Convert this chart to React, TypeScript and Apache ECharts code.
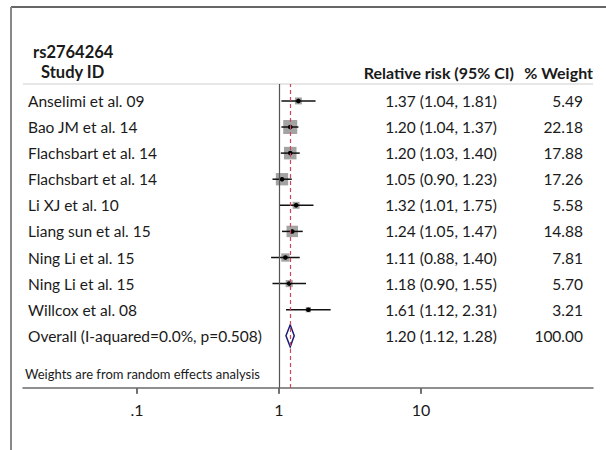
import React, { useEffect, useRef } from "react";
import * as echarts from "echarts";

const studies = [
  "Anselimi et al. 09",
  "Bao JM et al. 14",
  "Flachsbart et al. 14",
  "Flachsbart et al. 14",
  "Li XJ et al. 10",
  "Liang sun et al. 15",
  "Ning Li et al. 15",
  "Ning Li et al. 15",
  "Willcox et al. 08",
];
const rr = [1.37, 1.2, 1.2, 1.05, 1.32, 1.24, 1.11, 1.18, 1.61];
const lower = [1.04, 1.04, 1.03, 0.9, 1.01, 1.05, 0.88, 0.9, 1.12];
const upper = [1.81, 1.37, 1.4, 1.23, 1.75, 1.47, 1.4, 1.55, 2.31];
const weights = [5.49, 22.18, 17.88, 17.26, 5.58, 14.88, 7.81, 5.7, 3.21];

const overallLabel = "Overall (I-aquared=0.0%, p=0.508)";
const overallRR = 1.2;
const overallLower = 1.12;
const overallUpper = 1.28;
const overallWeight = 100.0;

const xTickValues = [0.1, 1, 10];
const xTickLabels = [".1", "1", "10"];

const FONT = "Lato, 'DejaVu Sans Condensed', sans-serif";
const TEXT_COLOR = "#1a1a1a";
const AXIS_COLOR = "#6a6a6a";
const NAME_X = 28;
const RR_X = 441;
const W_X = 583;
const FS = 15.5;
const Y_MAX = 11.648;

function fmtCI(e: number, l: number, u: number) {
  return `${e.toFixed(2)} (${l.toFixed(2)}, ${u.toFixed(2)})`;
}

function textEl(text: string, x: number, y: number, align: string, opts: any = {}) {
  return {
    type: "text",
    x,
    y,
    style: {
      text,
      fill: TEXT_COLOR,
      fontFamily: FONT,
      fontSize: FS,
      align,
      verticalAlign: "middle",
      ...opts,
    },
  };
}

export default function App() {
  const ref = useRef<HTMLDivElement>(null);
  useEffect(() => {
    if (!ref.current) return;
    const chart = echarts.init(ref.current, undefined, { renderer: "svg" });
    // rows counted upwards from the axis: top study is row 11, overall row 2
    const studyData = studies.map((_, i) => [rr[i], studies.length + 2 - i, lower[i], upper[i], weights[i]]);
    const overallRow = 2;
    const option: any = {
      animation: false,
      backgroundColor: "#ffffff",
      grid: { left: 23, right: 13, top: 84, bottom: 62, containLabel: false },
      xAxis: {
        type: "log",
        logBase: 10,
        min: 0.01575,
        max: 162.7,
        position: "bottom",
        axisLine: { show: true, onZero: true, lineStyle: { color: AXIS_COLOR, width: 1.5 } },
        axisTick: { show: true, length: 5, inside: false, customValues: xTickValues, lineStyle: { color: AXIS_COLOR, width: 1.5 } },
        axisLabel: {
          show: true,
          customValues: xTickValues,
          margin: 13,
          fontFamily: FONT,
          fontSize: 16,
          color: TEXT_COLOR,
          formatter: (v: number) => {
            const k = xTickValues.findIndex((t) => Math.abs(t - v) < 1e-9);
            return k >= 0 ? xTickLabels[k] : "";
          },
        },
        splitLine: { show: false },
        minorTick: { show: false },
      },
      yAxis: {
        type: "value",
        min: 0,
        max: Y_MAX,
        axisLine: { show: false },
        axisTick: { show: false },
        axisLabel: { show: false },
        splitLine: { show: false },
      },
      graphic: [
        { type: "line", shape: { x1: 11, y1: 7, x2: 606, y2: 7 }, style: { stroke: "#333", lineWidth: 1.5 } },
        { type: "line", shape: { x1: 11, y1: 7, x2: 11, y2: 450 }, style: { stroke: "#888", lineWidth: 2 } },
        { type: "line", shape: { x1: 23, y1: 84, x2: 593, y2: 84 }, style: { stroke: "#cfcfcf", lineWidth: 1 } },
        { ...textEl("rs2764264", 33, 52, "left", { fontWeight: "bold", fontSize: 16.5 }) },
        { ...textEl("Study ID", 41, 72, "left", { fontWeight: "bold", fontSize: 16.5 }) },
        { ...textEl("Relative risk (95% CI)", 514, 72, "right", { fontWeight: "bold", fontSize: 16 }) },
        { ...textEl("% Weight", 593, 72, "right", { fontWeight: "bold", fontSize: 16 }) },
        { ...textEl("Weights are from random effects analysis", 25, 374, "left", { fontSize: 13 }) },
      ],
      series: [
        {
          type: "custom",
          name: "studies",
          data: studyData,
          renderItem: (params: any, api: any) => {
            const i = params.dataIndex;
            const est = api.value(0);
            const row = api.value(1);
            const lo = api.value(2);
            const hi = api.value(3);
            const w = api.value(4);
            const c = api.coord([est, row]);
            const pl = api.coord([lo, row]);
            const ph = api.coord([hi, row]);
            const side = 2.97 * Math.sqrt(w);
            return {
              type: "group",
              children: [
                { type: "rect", shape: { x: c[0] - side / 2, y: c[1] - side / 2, width: side, height: side }, style: { fill: "#a3a3a3" } },
                { type: "line", shape: { x1: pl[0], y1: c[1], x2: ph[0], y2: c[1] }, style: { stroke: "#111", lineWidth: 1.5 } },
                { type: "circle", shape: { cx: c[0], cy: c[1], r: 2.3 }, style: { fill: "#000" } },
                textEl(studies[i], NAME_X, c[1], "left"),
                textEl(fmtCI(rr[i], lower[i], upper[i]), RR_X, c[1], "center"),
                textEl(weights[i].toFixed(2), W_X, c[1], "right"),
              ],
            };
          },
          markLine: {
            silent: true,
            symbol: "none",
            label: { show: false },
            data: [
              { xAxis: 1, lineStyle: { color: "#555", type: "solid", width: 1.2 } },
              { xAxis: overallRR, lineStyle: { color: "#c9485b", type: [4, 3], width: 1.2 } },
            ],
          },
          z: 3,
        },
        {
          type: "custom",
          name: "overall",
          data: [[overallRR, overallRow, overallLower, overallUpper, overallWeight]],
          renderItem: (params: any, api: any) => {
            const row = api.value(1);
            const c = api.coord([api.value(0), row]);
            const pl = api.coord([api.value(2), row]);
            const ph = api.coord([api.value(3), row]);
            const h = 11;
            return {
              type: "group",
              children: [
                {
                  type: "polygon",
                  shape: { points: [[pl[0], c[1]], [c[0], c[1] - h], [ph[0], c[1]], [c[0], c[1] + h]] },
                  style: { fill: "#ffffff", stroke: "#1c1c78", lineWidth: 1.5 },
                },
                textEl(overallLabel, NAME_X, c[1], "left"),
                textEl(fmtCI(overallRR, overallLower, overallUpper), RR_X, c[1], "center"),
                textEl(overallWeight.toFixed(2), W_X, c[1], "right"),
              ],
            };
          },
          z: 4,
        },
        {
          // tick marks under the axis line, placed through the log scale
          type: "scatter",
          name: "xTicks",
          silent: true,
          clip: false,
          data: xTickValues.map((v) => [v, 0]),
          symbol: "rect",
          symbolSize: [1.6, 6],
          symbolOffset: [0, 3],
          itemStyle: { color: AXIS_COLOR, opacity: 1 },
          z: 10,
        },
      ],
    };
    chart.setOption(option);
    return () => chart.dispose();
  }, []);
  return <div ref={ref} style={{ position: "absolute", left: 0, top: 0, width: 606, height: 450 }} />;
}
